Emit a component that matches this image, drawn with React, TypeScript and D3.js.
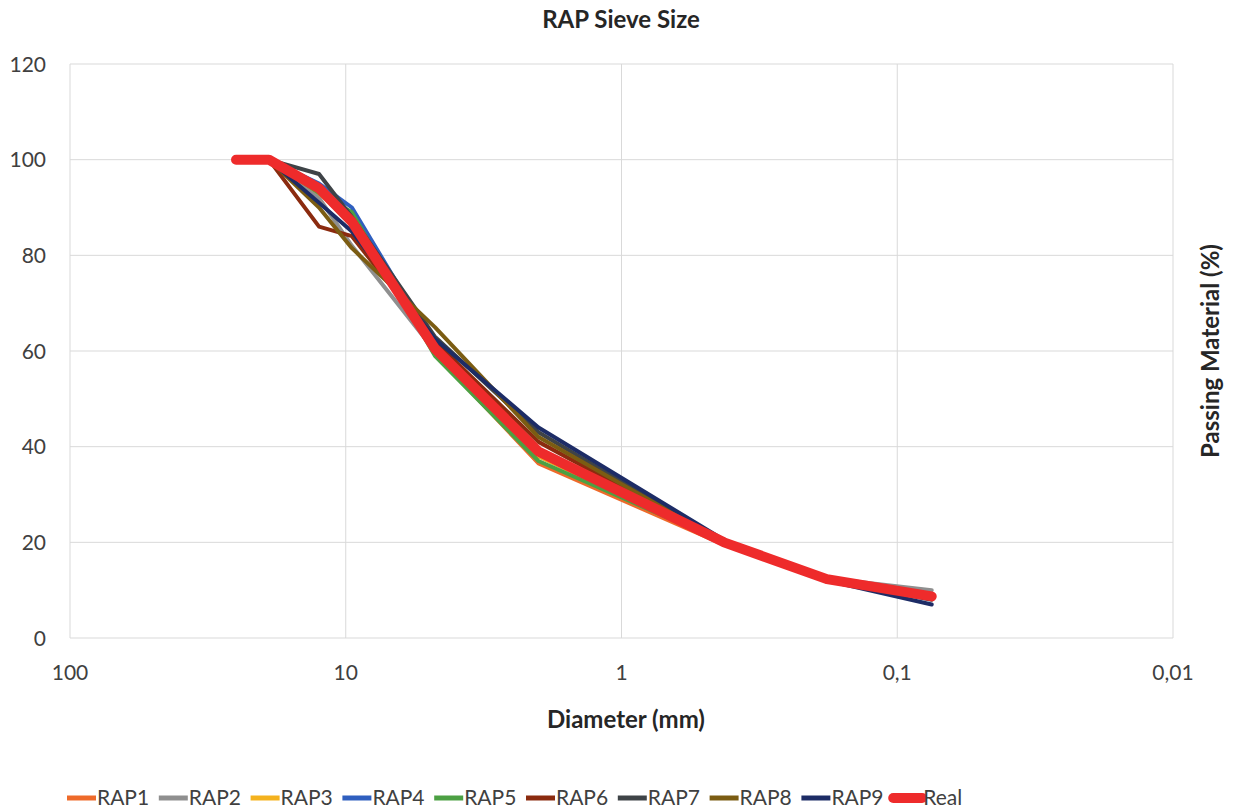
import React from "react";
import * as d3 from "d3";

const sieveSizes = [25, 19, 12.5, 9.5, 4.75, 2, 0.425, 0.18, 0.075];
const seriesNames = ["RAP1", "RAP2", "RAP3", "RAP4", "RAP5", "RAP6", "RAP7", "RAP8", "RAP9", "Real"];
const rap1 = [100, 100, 93, 88, 59.5, 36.5, 19.5, 12.3, 9];
const rap2 = [100, 100, 92, 82, 60, 38, 20, 12.5, 10];
const rap3 = [100, 100, 93, 87, 61, 38, 20, 12.5, 9];
const rap4 = [100, 100, 95, 90, 61, 39, 20, 12.3, 8.5];
const rap5 = [100, 100, 93, 89, 59, 37, 20, 12.3, 9];
const rap6 = [100, 100, 86, 84, 62, 41, 20, 12.3, 8.5];
const rap7 = [100, 100, 97, 88, 63, 43, 20, 12.3, 8];
const rap8 = [100, 100, 90, 81.5, 65, 42, 20, 12.5, 9];
const rap9 = [100, 100, 91, 85, 62.5, 44, 20.5, 12, 7];
const real = [100, 100, 94, 87, 60.5, 39, 20, 12.3, 8.7];
const seriesValues = [rap1, rap2, rap3, rap4, rap5, rap6, rap7, rap8, rap9, real];
const seriesColors = ["#EE6A2A", "#8F8F8F", "#F4B21E", "#2F5FBF", "#4CA043", "#8B2B0F", "#3E4347", "#7B5C12", "#1D2C66", "#EE2B2B"];
const xTicks = [100, 10, 1, 0.1, 0.01];
const xTickLabels = ["100", "10", "1", "0,1", "0,01"];
const yTicks = [0, 20, 40, 60, 80, 100, 120];

const W = 1237;
const H = 812;
const font = "Lato, 'Open Sans', sans-serif";

export default function App() {
  const x = d3.scaleLog().domain([100, 0.01]).range([70, 1173]);
  const y = d3.scaleLinear().domain([0, 120]).range([638, 64]);
  const line = d3
    .line<[number, number]>()
    .x((d) => x(d[0]))
    .y((d) => y(d[1]));

  return (
    <svg
      width={W}
      height={H}
      style={{ position: "absolute", left: 0, top: 0, background: "#fff" }}
      fontFamily={font}
    >
      <rect x={0} y={0} width={W} height={H} fill="#fff" />
      {yTicks.map((t) => (
        <line key={"gy" + t} x1={70} x2={1173} y1={y(t)} y2={y(t)} stroke="#d9d9d9" strokeWidth={1} />
      ))}
      {xTicks.map((t) => (
        <line key={"gx" + t} x1={x(t)} x2={x(t)} y1={y(0)} y2={y(120)} stroke="#d9d9d9" strokeWidth={1} />
      ))}
      {yTicks.map((t) => (
        <text key={"ty" + t} x={46} y={y(t)} dy="0.36em" textAnchor="end" fontSize={21} fill="#404040">
          {t}
        </text>
      ))}
      {xTicks.map((t, i) => (
        <text key={"tx" + t} x={x(t)} y={680} textAnchor="middle" fontSize={21} fill="#404040">
          {xTickLabels[i]}
        </text>
      ))}
      <text x={621} y={28} textAnchor="middle" fontSize={24} fontWeight="bold" fill="#262626">
        RAP Sieve Size
      </text>
      <text x={626} y={728} textAnchor="middle" fontSize={24} fontWeight="bold" fill="#262626">
        Diameter (mm)
      </text>
      <text
        transform={`translate(1219,351) rotate(-90)`}
        textAnchor="middle"
        fontSize={24}
        fontWeight="bold"
        fill="#262626"
      >
        Passing Material (%)
      </text>
      {seriesValues.map((vals, i) => (
        <path
          key={seriesNames[i]}
          d={line(sieveSizes.map((s, j) => [s, vals[j]] as [number, number])) || ""}
          fill="none"
          stroke={seriesColors[i]}
          strokeWidth={seriesNames[i] === "Real" ? 10 : 4}
          strokeLinejoin="round"
          strokeLinecap="round"
        />
      ))}
      {seriesNames.map((n, i) => {
        const lx = 67 + i * 91.8;
        const isReal = n === "Real";
        return (
          <g key={"lg" + n}>
            <line
              x1={lx}
              x2={lx + 29}
              y1={798}
              y2={798}
              stroke={seriesColors[i]}
              strokeWidth={isReal ? 10 : 5}
              strokeLinecap={isReal ? "round" : "butt"}
            />
            <text x={lx + 30} y={805} fontSize={21} fill="#404040">
              {n}
            </text>
          </g>
        );
      })}
    </svg>
  );
}
